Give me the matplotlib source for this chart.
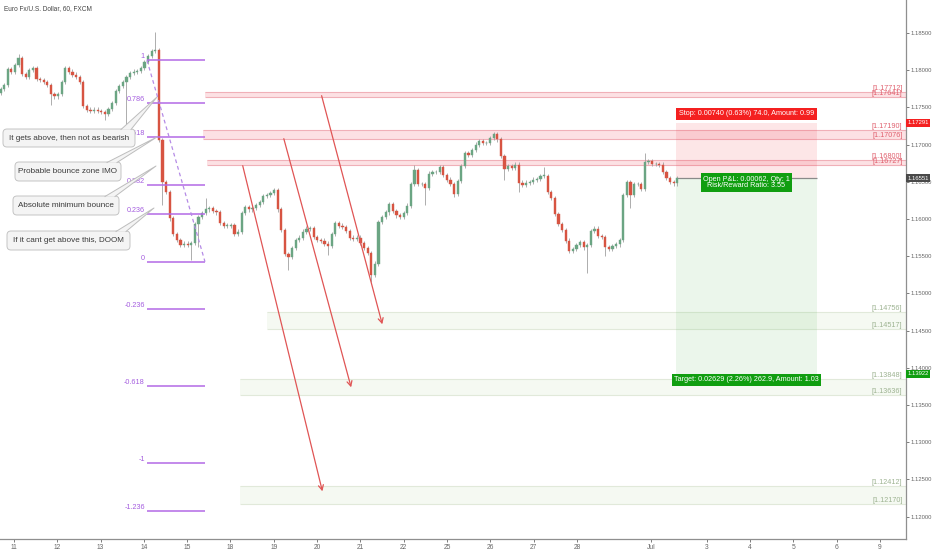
import matplotlib
matplotlib.use('Agg')
import matplotlib.pyplot as plt
import matplotlib.transforms as mtransforms
from matplotlib.patches import FancyBboxPatch, Polygon, Rectangle

plt.rcParams['font.family'] = ['Liberation Sans', 'DejaVu Sans']

# ---------------- data ----------------
TITLE = "Euro Fx/U.S. Dollar, 60, FXCM"
OPEN0 = 1.1770
CLOSES = [
    1.1775, 1.1780, 1.1802, 1.1798, 1.1807, 1.1816, 1.1795, 1.1791, 1.1800, 1.1803,
    1.1788, 1.1787, 1.1784, 1.1780, 1.1768, 1.1765, 1.1768, 1.1784, 1.1803, 1.1798,
    1.1794, 1.1791, 1.1784, 1.1752, 1.1747, 1.1745, 1.1747, 1.1745, 1.1744, 1.1741,
    1.1748, 1.1756, 1.1772, 1.1779, 1.1784, 1.1791, 1.1796, 1.1798, 1.1799, 1.1803,
    1.1811, 1.1819, 1.1826, 1.1827, 1.1706, 1.1650, 1.1636, 1.1601, 1.1580, 1.1572,
    1.1565, 1.1567, 1.1565, 1.1568, 1.1593, 1.1603, 1.1608, 1.1613, 1.1615, 1.1611,
    1.1609, 1.1595, 1.1591, 1.1591, 1.1592, 1.1580, 1.1583, 1.1608, 1.1616, 1.1613,
    1.1615, 1.1619, 1.1623, 1.1631, 1.1632, 1.1635, 1.1639, 1.1613, 1.1585, 1.1553,
    1.1549, 1.1561, 1.1572, 1.1575, 1.1583, 1.1587, 1.1588, 1.1576, 1.1572, 1.1571,
    1.1567, 1.1564, 1.1580, 1.1595, 1.1591, 1.1589, 1.1584, 1.1575, 1.1573, 1.1575,
    1.1568, 1.1561, 1.1554, 1.1525, 1.1540, 1.1596, 1.1603, 1.1609, 1.1620, 1.1611,
    1.1605, 1.1603, 1.1608, 1.1618, 1.1647, 1.1666, 1.1647, 1.1647, 1.1642, 1.1661,
    1.1663, 1.1663, 1.1670, 1.1659, 1.1653, 1.1647, 1.1634, 1.1651, 1.1671, 1.1689,
    1.1686, 1.1693, 1.1700, 1.1705, 1.1702, 1.1702, 1.1709, 1.1714, 1.1707, 1.1685,
    1.1667, 1.1671, 1.1669, 1.1673, 1.1649, 1.1646, 1.1649, 1.1650, 1.1653, 1.1654,
    1.1658, 1.1658, 1.1636, 1.1628, 1.1607, 1.1593, 1.1585, 1.1571, 1.1557, 1.1560,
    1.1565, 1.1569, 1.1562, 1.1565, 1.1584, 1.1587, 1.1577, 1.1576, 1.1562, 1.1560,
    1.1564, 1.1566, 1.1572, 1.1632, 1.1650, 1.1632, 1.1647, 1.1647, 1.1640, 1.1677,
    1.1678, 1.1674, 1.1674, 1.1673, 1.1663, 1.1655, 1.1650, 1.1648, 1.1655,
]
HIGHS = {5: 1.1822, 43: 1.1851, 57: 1.1628, 115: 1.1673, 122: 1.1673,
         137: 1.1717, 151: 1.1670, 179: 1.1689}
LOWS = {14: 1.1753, 29: 1.1733, 35: 1.1726, 45: 1.1619, 53: 1.1545, 55: 1.1562,
        80: 1.1532, 91: 1.1552, 103: 1.1516, 118: 1.1619, 126: 1.1630,
        140: 1.1653, 144: 1.1636, 163: 1.1527, 168: 1.1550, 175: 1.1615}

FIB_HIGH = 1.18133
FIB_LOW = 1.15426
FIB_START_BAR = 40.7
FIB_END_BAR = 56.8
FIB_LEVELS = [1, 0.786, 0.618, 0.382, 0.236, 0, -0.236, -0.618, -1, -1.236]
FIB_LABELS = ["1", "0.786", "0.618", "0.382", "0.236", "0", "-0.236", "-0.618", "-1", "-1.236"]

RED_ZONES = [(1.17712, 1.17641), (1.17190, 1.17076), (1.16800, 1.16727)]
RED_ZONE_START = [56.8, 56.25, 57.4]
GREEN_ZONES = [(1.14756, 1.14517), (1.13848, 1.13636), (1.12412, 1.12170)]
GREEN_ZONE_START = [74.0, 66.5, 66.5]

ARROW_START_BAR = [67.1, 78.5, 89.0]
ARROW_START_PRICE = [1.16753, 1.17116, 1.17694]
ARROW_END_BAR = [89.6, 97.6, 106.25]
ARROW_END_PRICE = [1.12304, 1.13702, 1.14549]

POS_START_BAR = 187.6
POS_END_BAR = 226.8
ENTRY = 1.16551
STOP = 1.17291
TARGET = 1.13922
STOP_TEXT = "Stop: 0.00740 (0.63%) 74.0, Amount: 0.99"
PNL_TEXT = "Open P&L: 0.00062, Qty: 1\nRisk/Reward Ratio: 3.55"
TARGET_TEXT = "Target: 0.02629 (2.26%) 262.9, Amount: 1.03"

CALLOUTS = ["It gets above, then not as bearish", "Probable bounce zone IMO",
            "Absolute minimum bounce", "If it cant get above this, DOOM"]

DAY_LABELS = ["11", "12", "13", "14", "15", "18", "19", "20", "21", "22",
              "25", "26", "27", "28", "Jul", "3", "4", "5", "6", "9"]
DAY_SLOTS = [0, 1, 2, 3, 4, 5, 6, 7, 8, 9, 10, 11, 12, 13, 14.71, 16, 17, 18, 19, 20]
PRICE_TICKS = [1.185, 1.180, 1.175, 1.170, 1.165, 1.160, 1.155, 1.150,
               1.145, 1.140, 1.135, 1.130, 1.125, 1.120]

# ---------------- layout ----------------
W, H = 932, 550
fig = plt.figure(figsize=(W / 100, H / 100), dpi=100)
fig.patch.set_facecolor('white')
AX_W, AX_H = 906, 539
ax = fig.add_axes([0, (H - AX_H) / H, AX_W / W, AX_H / H])
X0, X1 = -0.139, 251.53
Y0, Y1 = 1.11699, 1.18944
ax.set_xlim(X0, X1)
ax.set_ylim(Y0, Y1)
ax.set_facecolor('white')
for s in ['top', 'left']:
    ax.spines[s].set_visible(False)
for s in ['right', 'bottom']:
    ax.spines[s].set_color('#8f8f8f')
    ax.spines[s].set_linewidth(0.9)

PIX = mtransforms.Affine2D().scale(1 / W, -1 / H).translate(0, 1) + fig.transFigure

# ---- zones ----
for (a, b), st in zip(RED_ZONES, RED_ZONE_START):
    ax.add_patch(Rectangle((st, b), X1 - st, a - b, fc='#fce1e4', ec='none', zorder=1))
    ax.hlines([a, b], st, X1, color='#f0b0b8', lw=0.8, zorder=1.2)
    ax.text(X1 - 1.0, a, f"[{a:.5f}]", ha='right', va='bottom', fontsize=5.2,
            color='#e0606e', zorder=6)
    ax.text(X1 - 1.0, b, f"[{b:.5f}]", ha='right', va='bottom', fontsize=5.2,
            color='#e0606e', zorder=6)
for (a, b), st in zip(GREEN_ZONES, GREEN_ZONE_START):
    ax.add_patch(Rectangle((st, b), X1 - st, a - b, fc='#f5f9f2', ec='none', zorder=1))
    ax.hlines([a, b], st, X1, color='#e1e9da', lw=0.8, zorder=1.2)
    ax.text(X1 - 1.0, a, f"[{a:.5f}]", ha='right', va='bottom', fontsize=5.2,
            color='#9db391', zorder=6)
    ax.text(X1 - 1.0, b, f"[{b:.5f}]", ha='right', va='bottom', fontsize=5.2,
            color='#9db391', zorder=6)

# ---- position tool ----
ax.add_patch(Rectangle((POS_START_BAR, ENTRY), POS_END_BAR - POS_START_BAR, STOP - ENTRY,
                       fc=(0.95, 0.2, 0.25, 0.12), ec='none', zorder=1.5))
ax.add_patch(Rectangle((POS_START_BAR, TARGET), POS_END_BAR - POS_START_BAR, ENTRY - TARGET,
                       fc=(0.3, 0.7, 0.3, 0.11), ec='none', zorder=1.5))
ax.hlines(ENTRY, POS_START_BAR, POS_END_BAR, color='#8a8a8a', lw=0.9, zorder=2)
mid = (POS_START_BAR + POS_END_BAR) / 2
ax.text(mid, STOP + 0.00125, STOP_TEXT, ha='center', va='center', fontsize=5.2,
        color='white', zorder=8,
        bbox=dict(boxstyle='square,pad=0.35', fc='#f42020', ec='none'))
ax.text(mid, ENTRY - 0.0006, PNL_TEXT, ha='center', va='center', fontsize=5.2,
        color='white', zorder=8, linespacing=0.95,
        bbox=dict(boxstyle='square,pad=0.3', fc='#109e10', ec='none'))
ax.text(mid, TARGET - 0.00085, TARGET_TEXT, ha='center', va='center', fontsize=5.2,
        color='white', zorder=8,
        bbox=dict(boxstyle='square,pad=0.35', fc='#109e10', ec='none'))

# ---- candles ----
opens = [OPEN0] + CLOSES[:-1]
UP, DOWN, WICK = '#6ba583', '#d75442', '#a0a0a0'
for i, (o, c) in enumerate(zip(opens, CLOSES)):
    lo_b, hi_b = min(o, c), max(o, c)
    hi = HIGHS.get(i, hi_b + 0.0003)
    lo = LOWS.get(i, lo_b - 0.0003)
    ax.vlines(i, lo, hi, color=WICK, lw=0.6, zorder=3)
    col = UP if c >= o else DOWN
    h = max(hi_b - lo_b, 0.00006)
    ax.add_patch(Rectangle((i - 0.3, lo_b), 0.6, h, fc=col, ec=col, lw=0.3, zorder=3.5))

# ---- fibonacci ----
rng = FIB_HIGH - FIB_LOW
for lvl, lab in zip(FIB_LEVELS, FIB_LABELS):
    p = FIB_LOW + lvl * rng
    ax.hlines(p, FIB_START_BAR, FIB_END_BAR, color='#b36ae6', lw=1.1, zorder=4)
    ax.text(FIB_START_BAR - 0.6, p, lab, ha='right', va='bottom', fontsize=5.2,
            color='#a45ddf', zorder=4)
ax.plot([FIB_START_BAR, FIB_END_BAR], [FIB_HIGH, FIB_LOW], color='#b58be6',
        lw=0.9, ls=(0, (3, 2.5)), zorder=4)

# ---- arrows ----
for xs, ys, xe, ye in zip(ARROW_START_BAR, ARROW_START_PRICE, ARROW_END_BAR, ARROW_END_PRICE):
    ax.annotate('', xy=(xe, ye), xytext=(xs, ys),
                arrowprops=dict(arrowstyle='->,head_length=0.35,head_width=0.18',
                                color='#e05555', lw=0.9), zorder=5)

# ---- callouts (pixel layout) ----
BOXES = [(3, 129, 135, 147, 157, 97), (15, 162, 121, 181, 157, 137),
         (13, 196, 119, 215, 156, 166), (7, 231, 130, 250, 154, 208)]
for (x0, y0, x1, y1, tx, ty), txt in zip(BOXES, CALLOUTS):
    b = FancyBboxPatch((x0, y0), x1 - x0, y1 - y0,
                       boxstyle='round,pad=0,rounding_size=4', transform=PIX,
                       fc='#f4f4f4', ec='#c4c4c4', lw=0.7, zorder=9, clip_on=False)
    fig.add_artist(b)
    pa, pb = (x1 - 14, y0 + 0.5), (x1 - 4, y0 + 0.5)
    fig.add_artist(Polygon([pa, (tx, ty), pb], closed=True, transform=PIX,
                           fc='#f4f4f4', ec='none', zorder=9))
    fig.add_artist(plt.Line2D([pa[0], tx, pb[0]], [pa[1], ty, pb[1]], transform=PIX,
                              color='#bdbdbd', lw=0.7, zorder=9.5))
    fig.text((x0 + x1) / 2 / W, 1 - (y0 + y1) / 2 / H, txt, ha='center', va='center',
             fontsize=5.9, color='#3a3a3a', zorder=10)

# ---- title ----
fig.text(4 / W, 1 - 9 / H, TITLE, ha='left', va='center', fontsize=4.7, color='#444444')

# ---- axes ticks ----
ax.yaxis.tick_right()
ax.set_yticks(PRICE_TICKS)
ax.set_yticklabels([f"{p:.5f}" for p in PRICE_TICKS])
ax.tick_params(axis='y', labelsize=4.2, colors='#666666', length=2, width=0.6, pad=1.2)
day_pos = [((14 + 43.3 * s) - 0.5) / 3.6 for s in DAY_SLOTS]
ax.set_xticks(day_pos)
ax.set_xticklabels(DAY_LABELS)
ax.tick_params(axis='x', labelsize=4.8, colors='#666666', length=2, width=0.6, pad=1.5)

# ---- right price labels ----
bt = mtransforms.blended_transform_factory(ax.transAxes, ax.transData)
for p, col in [(STOP, '#f42020'), (ENTRY, '#4a4a4a'), (TARGET, '#109e10')]:
    ax.text(1.0015, p, f"{p:.5f}", transform=bt, ha='left', va='center', fontsize=4.2,
            color='white', zorder=10, clip_on=False,
            bbox=dict(boxstyle='square,pad=0.25', fc=col, ec='none'))

fig.savefig('out.png', dpi=100, facecolor='white')
